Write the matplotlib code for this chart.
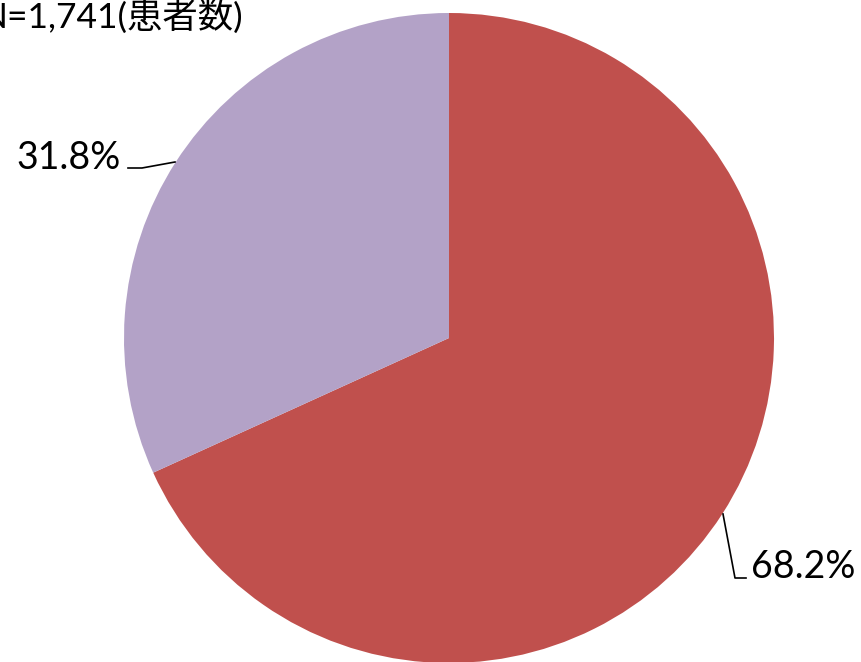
import matplotlib
matplotlib.use('Agg')
import matplotlib.pyplot as plt

labels = ['68.2%', '31.8%']
shares = [68.2, 31.8]
colors = ['#C0504D', '#B3A2C7']
title = 'N=1,741(患者数)'

W, H = 861, 662
fig = plt.figure(figsize=(W / 100, H / 100), dpi=100)
ax = fig.add_axes([0, 0, 1, 1])

cx, cy, r = 449, H - 338, 325
ax.pie(shares, colors=colors, startangle=90, counterclock=False,
       center=(cx, cy), radius=r, frame=True,
       wedgeprops=dict(linewidth=0))
ax.set_xlim(0, W)
ax.set_ylim(0, H)
ax.set_aspect('equal')
ax.axis('off')

fam = ['Lato', 'Noto Sans CJK JP']
fs = 27

# leader lines
ax.plot([128, 142, 175], [H - 168, H - 168, H - 162], color='black', lw=1.2)
ax.plot([723, 735, 746], [H - 514, H - 578, H - 578], color='black', lw=1.2)

ax.text(121, H - 158, labels[1], ha='right', va='center', fontsize=fs, family=fam)
ax.text(751, H - 567, labels[0], ha='left', va='center', fontsize=fs, family=fam)
ax.text(243, H - 28, title, ha='right', va='baseline', fontsize=25.5, family=fam)

fig.savefig('out.png', dpi=100)
